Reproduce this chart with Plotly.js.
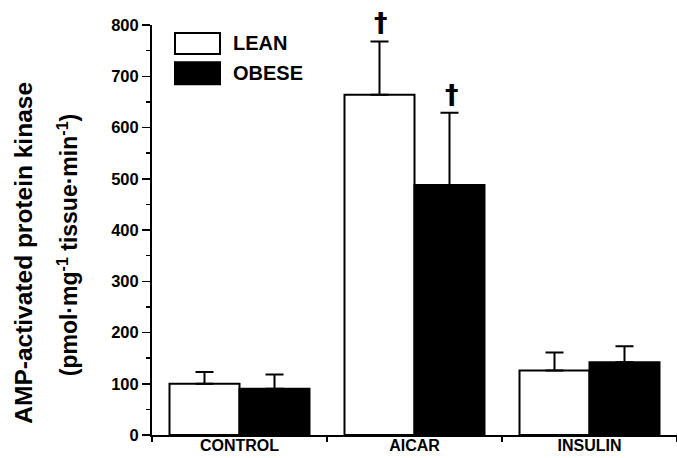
<!DOCTYPE html>
<html>
<head>
<meta charset="utf-8">
<script src="https://cdn.plot.ly/plotly-3.0.1.min.js"></script>
<style>html,body{margin:0;padding:0;background:#fff}#chart{width:677px;height:458px}</style>
</head>
<body>
<div id="chart"></div>
<script>
// ---- data ----
const categories = ["CONTROL", "AICAR", "INSULIN"];
const seriesNames = ["LEAN", "OBESE"];
const leanValues = [100, 664, 126];
const leanErrors = [23, 104, 35];
const obeseValues = [90, 488, 142];
const obeseErrors = [28, 141, 31];
const significant = {lean: [false, true, false], obese: [false, true, false]};
const yTitle1 = "AMP-activated protein kinase";
const yTitle2 = "(pmol·mg<sup>-1</sup> tissue·min<sup>-1</sup>)";

const FONT = "Liberation Sans, Arial, Helvetica, sans-serif";

const errStyle = (arr) => ({type: "data", array: arr, arrayminus: arr.map(() => 0), symmetric: false,
  visible: true, color: "#000", thickness: 2, width: 9});

const traces = [
  {type: "bar", name: seriesNames[0], x: categories, y: leanValues,
   marker: {color: "#fff", line: {color: "#000", width: 2}}, error_y: errStyle(leanErrors)},
  {type: "bar", name: seriesNames[1], x: categories, y: obeseValues,
   marker: {color: "#000", line: {color: "#000", width: 2}}, error_y: errStyle(obeseErrors)}
];

// plot area geometry (pixels)
const L = 152, T = 25, W = 525, H = 410.5;
const px = (p) => (p - L) / W;
const py = (p) => (T + H - p) / H;

const annotations = [
  {xref: "paper", yref: "paper", x: px(24), y: py(253), text: "<b>" + yTitle1 + "</b>", textangle: -90,
   showarrow: false, xanchor: "center", yanchor: "middle", font: {family: FONT, size: 24.5, color: "#000"}},
  {xref: "paper", yref: "paper", x: px(68), y: py(245.5), text: "<b>" + yTitle2 + "</b>", textangle: -90,
   showarrow: false, xanchor: "center", yanchor: "middle", font: {family: FONT, size: 23, color: "#000"}},
  {xref: "paper", yref: "paper", x: px(231), y: py(43.5), text: "<b>" + seriesNames[0] + "</b>",
   showarrow: false, xanchor: "left", yanchor: "middle", font: {family: FONT, size: 20, color: "#000"}},
  {xref: "paper", yref: "paper", x: px(231), y: py(73.5), text: "<b>" + seriesNames[1] + "</b>",
   showarrow: false, xanchor: "left", yanchor: "middle", font: {family: FONT, size: 20, color: "#000"}}
];

// significance daggers above error bars
const DAG = {family: "DejaVu Sans, sans-serif", size: 27, weight: "bold", color: "#000"};
categories.forEach((c, i) => {
  if (significant.lean[i]) annotations.push({x: c, y: leanValues[i] + leanErrors[i], xref: "x", yref: "y",
    text: "<b>†</b>", showarrow: false, xanchor: "center", yanchor: "bottom", xshift: -34, yshift: 1, font: DAG});
  if (significant.obese[i]) annotations.push({x: c, y: obeseValues[i] + obeseErrors[i], xref: "x", yref: "y",
    text: "<b>†</b>", showarrow: false, xanchor: "center", yanchor: "bottom", xshift: 37, yshift: 1, font: DAG});
});

const shapes = [
  {type: "rect", xref: "paper", yref: "paper", x0: px(175), x1: px(220), y0: py(54), y1: py(33),
   fillcolor: "#fff", line: {color: "#000", width: 2}},
  {type: "rect", xref: "paper", yref: "paper", x0: px(175), x1: px(220), y0: py(84.3), y1: py(62.3),
   fillcolor: "#000", line: {color: "#000", width: 2}}
];

const layout = {
  width: 677, height: 458,
  margin: {l: L, r: 0, t: T, b: 458 - T - H, pad: 0},
  paper_bgcolor: "#fff", plot_bgcolor: "#fff",
  showlegend: false,
  barmode: "group", bargap: 0.2, bargroupgap: 0,
  font: {family: FONT, color: "#000"},
  xaxis: {type: "category", range: [-0.5, 2.5], showline: true, linecolor: "#000", linewidth: 2,
    ticks: "outside", tickson: "boundaries", ticklen: 5, tickwidth: 1.5, tickcolor: "#000",
    showgrid: false, zeroline: false, automargin: false, ticklabelstandoff: -5,
    tickfont: {family: FONT, size: 16, weight: "bold", color: "#000"}},
  xaxis2: {overlaying: "x", anchor: "y", range: [-0.5, 2.5], tickvals: [-0.5, 0.5, 1.5, 2.5],
    ticks: "inside", ticklen: 5, tickwidth: 1.5, tickcolor: "#000", showticklabels: false,
    showgrid: false, zeroline: false, showline: false, automargin: false},
  yaxis: {range: [0, 800], dtick: 100, showline: true, linecolor: "#000", linewidth: 2,
    ticks: "outside", ticklen: 8, tickwidth: 1.5, tickcolor: "#000",
    minor: {dtick: 50, ticks: "outside", ticklen: 4, tickwidth: 1.5, tickcolor: "#000"},
    showgrid: false, zeroline: false, automargin: false,
    tickfont: {family: FONT, size: 16.5, weight: "bold", color: "#000"}},
  annotations: annotations,
  shapes: shapes
};

Plotly.newPlot("chart", traces, layout, {staticPlot: true, displayModeBar: false});
</script>
</body>
</html>
